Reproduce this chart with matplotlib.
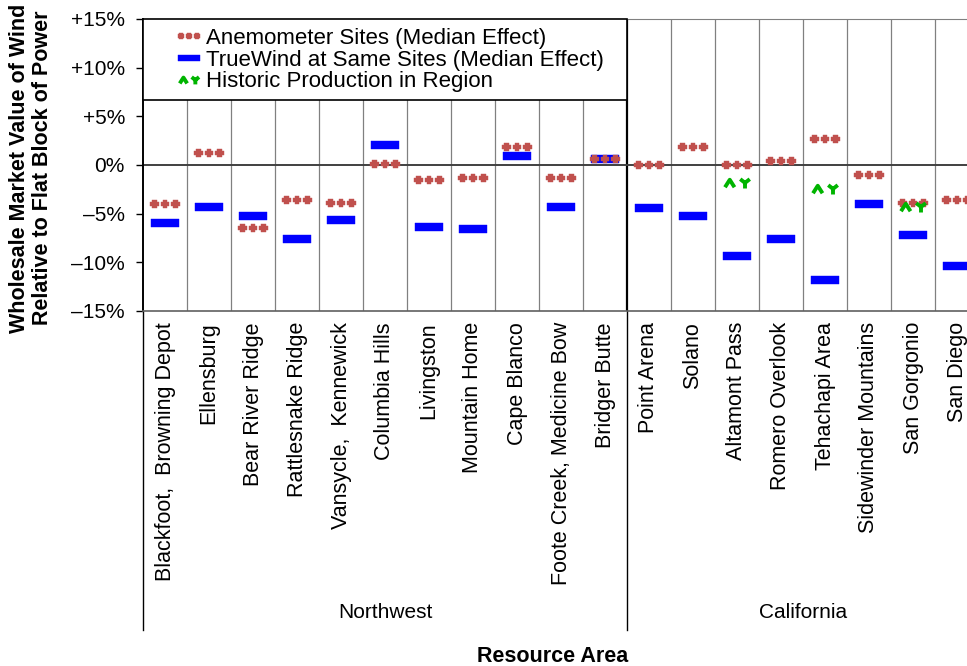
import numpy as np
import matplotlib
matplotlib.use("Agg")
import matplotlib.pyplot as plt
import matplotlib.transforms as mtransforms
from matplotlib.path import Path
from matplotlib.patches import Rectangle

plt.rcParams['font.family'] = ['Liberation Sans', 'DejaVu Sans']

# ---- data (percent) ----
sites = ["Blackfoot,  Browning Depot", "Ellensburg", "Bear River Ridge",
         "Rattlesnake Ridge", "Vansycle,  Kennewick", "Columbia Hills",
         "Livingston", "Mountain Home", "Cape Blanco",
         "Foote Creek, Medicine Bow", "Bridger Butte",
         "Point Arena", "Solano", "Altamont Pass", "Romero Overlook",
         "Tehachapi Area", "Sidewinder Mountains", "San Gorgonio", "San Diego"]
regions = ["Northwest", "California"]
region_sizes = [11, 8]

anemometer = [-4.0, 1.2, -6.5, -3.6, -3.9, 0.1, -1.5, -1.3, 1.9, -1.3, 0.65,
              0.05, 1.9, -0.05, 0.45, 2.7, -1.0, -3.9, -3.6]
truewind = [-6.0, -4.35, -5.2, -7.6, -5.7, 2.05, -6.4, -6.55, 0.95, -4.3, 0.65,
            -4.45, -5.2, -9.3, -7.6, -11.8, -4.0, -7.2, -10.4]
historic = [np.nan] * 13 + [-1.85, np.nan, -2.5, np.nan, -4.3, np.nan]

yticks = [15, 10, 5, 0, -5, -10, -15]
ytick_labels = ["+15%", "+10%", "+5%", "0%", "\u20135%", "\u201310%", "\u201315%"]

RED = '#C0504D'
BLUE = '#0000FF'
GREEN = '#00B400'


# ---- custom markers ----
def plus_row_marker():
    # three fat plus signs side by side
    verts, codes = [], []
    a, b = 0.5, 0.26
    for cx in (-1.2, 0.0, 1.2):
        pts = [(-b, a), (b, a), (b, b), (a, b), (a, -b), (b, -b), (b, -a),
               (-b, -a), (-b, -b), (-a, -b), (-a, b), (-b, b), (-b, a)]
        verts += [(cx + x, y) for x, y in pts]
        codes += [Path.MOVETO] + [Path.LINETO] * 11 + [Path.CLOSEPOLY]
    return Path(verts, codes)


def dash_marker():
    return Path([(-1, -0.3), (1, -0.3), (1, 0.3), (-1, 0.3), (-1, -0.3)],
                [Path.MOVETO, Path.LINETO, Path.LINETO, Path.LINETO, Path.CLOSEPOLY])


def ay_marker():
    verts = [(-1.0, -0.3), (-0.62, 0.3), (-0.24, -0.3),
             (0.6, -0.4), (0.6, 0.05), (0.6, 0.05), (0.22, 0.35), (0.6, 0.05), (0.98, 0.35)]
    codes = [Path.MOVETO, Path.LINETO, Path.LINETO,
             Path.MOVETO, Path.LINETO, Path.MOVETO, Path.LINETO, Path.MOVETO, Path.LINETO]
    return Path(verts, codes)


fig = plt.figure(figsize=(9.67, 6.66), dpi=100)
ax = fig.add_axes([143 / 967, 1 - 311 / 666, 836 / 967, 292 / 666])

x = np.arange(len(sites))
ax.set_xlim(-0.5, len(sites) - 0.5)
ax.set_ylim(-15, 15)

# category separators
bounds = np.cumsum(region_sizes)[:-1] - 0.5
for b in np.arange(0.5, len(sites) - 0.5):
    if b in bounds:
        ax.axvline(b, color='black', lw=1.6, zorder=1)
    else:
        ax.axvline(b, color='#808080', lw=0.9, zorder=1)
ax.axhline(0, color='#404040', lw=1.4, zorder=1)

l1, = ax.plot(x, truewind, ls='none', marker=dash_marker(), ms=19.5,
              mfc=BLUE, mec=BLUE, mew=0.3, zorder=3,
              label='TrueWind at Same Sites (Median Effect)')
l0, = ax.plot(x, anemometer, ls='none', marker=plus_row_marker(), ms=21,
              mfc=RED, mec=RED, mew=0.3, zorder=4,
              label='Anemometer Sites (Median Effect)')
l2, = ax.plot(x, historic, ls='none', marker=ay_marker(), ms=18,
              mfc='none', mec=GREEN, mew=2.8, zorder=5,
              label='Historic Production in Region')

# axes styling
ax.set_yticks(yticks)
ax.set_yticklabels(ytick_labels, fontsize=15)
ax.tick_params(axis='y', length=5, width=1, pad=8, direction='out')
ax.set_xticks(x)
ax.set_xticklabels(sites, rotation=90, fontsize=15.5, va='top', ha='center')
ax.tick_params(axis='x', length=0, pad=8)
ax.spines['left'].set_color('black')
ax.spines['left'].set_linewidth(1.4)
ax.spines['top'].set_color('#808080')
ax.spines['bottom'].set_color('#606060')
ax.spines['bottom'].set_linewidth(1.2)
ax.spines['right'].set_visible(False)

# legend box
box_w = (627 - 143) / 836
box_y0 = (311 - 100) / 292
ax.add_patch(Rectangle((0, box_y0), box_w, 1 - box_y0, transform=ax.transAxes,
                       facecolor='white', edgecolor='black', lw=1.2, zorder=6,
                       clip_on=False))
leg = ax.legend(handles=[l0, l1, l2], loc='upper left',
                bbox_to_anchor=((176 - 143) / 836, (311 - 28) / 292),
                frameon=False, fontsize=16, borderpad=0, borderaxespad=0,
                handlelength=1.15, handletextpad=0.22, labelspacing=0.03,
                markerscale=0.78, numpoints=1)
leg.set_zorder(7)

# region labels and separators below the axis
trans = mtransforms.blended_transform_factory(ax.transData, fig.transFigure)
start = 0
edges = [-0.5]
for name, n in zip(regions, region_sizes):
    ax.text(start + (n - 1) / 2, 1 - 613 / 666, name, transform=trans,
            ha='center', va='center', fontsize=15)
    start += n
    edges.append(start - 0.5)
y_axis_bottom = 1 - 311 / 666
for e in edges:
    ax.plot([e, e], [y_axis_bottom, 1 - 630 / 666], transform=trans,
            color='black', lw=1.0, clip_on=False)

fig.text(553 / 967, 1 - 657 / 666, 'Resource Area', ha='center', va='center',
         fontsize=15.5, fontweight='bold')
fig.text(31 / 967, 1 - 168 / 666,
         'Wholesale Market Value of Wind\nRelative to Flat Block of Power',
         rotation=90, ha='center', va='center', fontsize=15.5,
         fontweight='bold', multialignment='center', linespacing=1.15)

fig.savefig('out.png', dpi=100)
